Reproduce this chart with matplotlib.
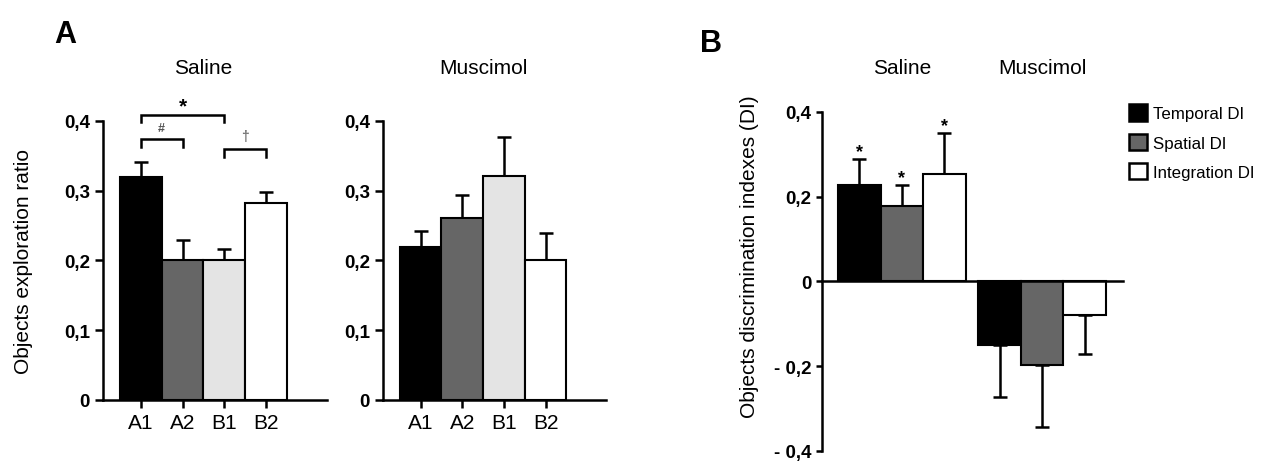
import matplotlib
matplotlib.use("Agg")
import matplotlib.pyplot as plt
from matplotlib.patches import Patch

plt.rcParams["font.family"] = ["Liberation Sans", "DejaVu Sans"]

# panel A: exploration ratio per object
objects = ["A1", "A2", "B1", "B2"]
saline_ratio = [0.320, 0.200, 0.200, 0.282]
saline_sem = [0.021, 0.029, 0.016, 0.016]
muscimol_ratio = [0.219, 0.261, 0.321, 0.201]
muscimol_sem = [0.023, 0.033, 0.056, 0.038]
obj_colors = ["#000000", "#666666", "#e4e4e4", "#ffffff"]

# panel B: discrimination indexes
di_names = ["Temporal DI", "Spatial DI", "Integration DI"]
di_saline = [0.227, 0.178, 0.253]
di_saline_sem = [0.062, 0.049, 0.097]
di_muscimol = [-0.149, -0.196, -0.080]
di_muscimol_sem = [0.123, 0.147, 0.090]
di_colors = ["#000000", "#666666", "#ffffff"]

LW = 1.8
fig = plt.figure(figsize=(12.7, 4.64), dpi=100)


def style_axis(ax):
    for s in ("top", "right"):
        ax.spines[s].set_visible(False)
    for s in ("left", "bottom"):
        ax.spines[s].set_linewidth(LW)
    ax.tick_params(width=LW, length=6)


def panel_a(rect, vals, errs, title):
    ax = fig.add_axes(rect)
    x = list(range(len(objects)))
    ax.bar(x, vals, width=1.0, color=obj_colors, edgecolor="black", linewidth=1.5, zorder=2)
    ax.errorbar(x, vals, yerr=[[0] * len(errs), errs], fmt="none", ecolor="black",
                elinewidth=LW, capsize=5, capthick=LW, zorder=1)
    ax.set_xlim(-0.9, 4.45)
    ax.set_ylim(0, 0.4)
    ax.set_yticks([0, 0.1, 0.2, 0.3, 0.4])
    ax.set_yticklabels(["0", "0,1", "0,2", "0,3", "0,4"], fontweight="bold", fontsize=13.5)
    ax.set_xticks(x)
    ax.set_xticklabels(objects, fontsize=15)
    style_axis(ax)
    ax.text(1.5, 0.476, title, ha="center", va="center", fontsize=15, clip_on=False)
    return ax


axA1 = panel_a([0.0811, 0.1358, 0.1764, 0.6013], saline_ratio, saline_sem, "Saline")
axA2 = panel_a([0.3016, 0.1358, 0.1756, 0.6013], muscimol_ratio, muscimol_sem, "Muscimol")
axA1.set_ylabel("Objects exploration ratio", fontsize=15, labelpad=22)


def bracket(ax, x0, x1, y, drop, label, color, size, dy):
    ax.plot([x0, x0, x1, x1], [y - drop, y, y, y - drop], color="black", lw=LW,
            clip_on=False, solid_joinstyle="miter")
    ax.text((x0 + x1) / 2, y + dy, label, ha="center", va="center", color=color,
            fontsize=size, fontweight="bold", clip_on=False)


bracket(axA1, 0, 2, 0.409, 0.011, "*", "black", 15, 0.013)
bracket(axA1, 0, 1, 0.374, 0.011, "#", "#555555", 9, 0.016)
bracket(axA1, 2, 3, 0.360, 0.011, "\u2020", "#777777", 10, 0.018)

# panel B
axB = fig.add_axes([0.6472, 0.0259, 0.2370, 0.7306])
xs = [0, 1, 2]
xm = [3.3, 4.3, 5.3]
axB.bar(xs, di_saline, width=1.0, color=di_colors, edgecolor="black", linewidth=1.5, zorder=2)
axB.bar(xm, di_muscimol, width=1.0, color=di_colors, edgecolor="black", linewidth=1.5, zorder=2)
axB.errorbar(xs, di_saline, yerr=[[0] * 3, di_saline_sem], fmt="none", ecolor="black",
             elinewidth=LW, capsize=5, capthick=LW, zorder=1)
axB.errorbar(xm, di_muscimol, yerr=[di_muscimol_sem, [0] * 3], fmt="none", ecolor="black",
             elinewidth=LW, capsize=5, capthick=LW, zorder=1)
for xi, v, e in zip(xs, di_saline, di_saline_sem):
    axB.text(xi, v + e + 0.018, "*", ha="center", va="center", fontsize=13, fontweight="bold")
axB.set_xlim(-0.88, 6.2)
axB.set_ylim(-0.4, 0.4)
axB.spines["bottom"].set_position(("data", 0))
axB.set_xticks([])
axB.set_yticks([-0.4, -0.2, 0, 0.2, 0.4])
axB.set_yticklabels(["- 0,4", "- 0,2", "0", "0,2", "0,4"], fontweight="bold", fontsize=13.5)
style_axis(axB)
axB.tick_params(axis="y", length=4)
axB.set_ylabel("Objects discrimination indexes (DI)", fontsize=15)
axB.yaxis.set_label_coords(-0.21, 0.575)
axB.text(1.0, 0.505, "Saline", ha="center", va="center", fontsize=15, clip_on=False)
axB.text(4.3, 0.505, "Muscimol", ha="center", va="center", fontsize=15, clip_on=False)

handles = [Patch(facecolor=c, edgecolor="black", linewidth=1.8) for c in di_colors]
fig.legend(handles, di_names, loc="upper left", bbox_to_anchor=(0.877, 0.806),
           frameon=False, fontsize=12.2, handlelength=1.08, handleheight=1.1,
           handletextpad=0.35, labelspacing=0.74)

fig.text(0.043, 0.925, "A", fontsize=22, fontweight="bold", va="center")
fig.text(0.551, 0.905, "B", fontsize=22, fontweight="bold", va="center")

fig.savefig("out.png", dpi=100)
